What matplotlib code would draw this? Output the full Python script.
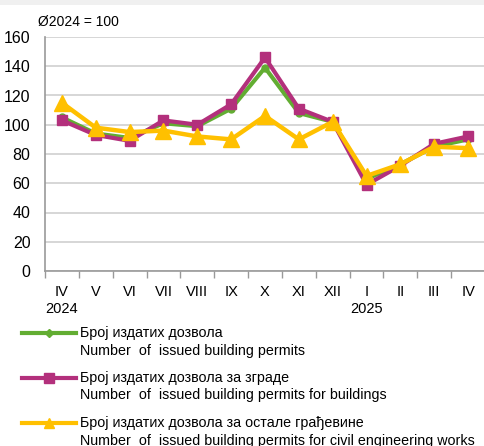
import numpy as np
import matplotlib.pyplot as plt
from matplotlib.lines import Line2D
from matplotlib.patches import Rectangle

plt.rcParams['font.family'] = ['Liberation Sans', 'DejaVu Sans']

# months IV 2024 - IV 2025
months = ['IV\n2024', 'V', 'VI', 'VII', 'VIII', 'IX', 'X', 'XI', 'XII',
          'I\n2025', 'II', 'III', 'IV']
total = [105, 94, 91, 101, 99, 111, 139, 108, 102, 63, 73, 85, 90]
buildings = [103, 93, 89, 103, 100, 114, 146, 111, 102, 59, 72, 87, 92]
civil = [115, 98, 95, 96, 92, 90, 106, 90, 102, 65, 73, 85, 84]

labels_sr = ['Број издатих дозвола',
             'Број издатих дозвола за зграде',
             'Број издатих дозвола за остале грађевине']
labels_en = ['Number  of  issued building permits',
             'Number  of  issued building permits for buildings',
             'Number  of  issued building permits for civil engineering works']

green = '#62ad32'
magenta = '#b3307c'
yellow = '#ffc000'

fig = plt.figure(figsize=(4.85, 4.46), dpi=100)
fig.add_artist(Rectangle((0, 1 - 5 / 446), 1, 5 / 446, transform=fig.transFigure,
                         color='#f0f0f0', lw=0))
ax = fig.add_axes([45 / 485, 175 / 446, 440 / 485, 234 / 446])

x = np.arange(len(months))
ax.plot(x, total, color=green, lw=3, marker='o', ms=5, zorder=3)
ax.plot(x, buildings, color=magenta, lw=3, marker='s', ms=7.5, zorder=4)
ax.plot(x, civil, color=yellow, lw=3.2, marker='^', ms=11.5, zorder=5)

ax.set_xlim(-0.5, len(months) - 0.5)
ax.set_ylim(0, 160)
ax.set_yticks(np.arange(0, 161, 20))
ax.grid(axis='y', color='#cfcfcf', lw=1.2)
ax.set_axisbelow(True)

ax.set_xticks(x)
ax.set_xticklabels(months, fontsize=10.5, linespacing=1.3)
ax.set_xticks(np.arange(-0.5, len(months), 1), minor=True)
ax.tick_params(axis='x', which='major', length=0, pad=10)
ax.tick_params(axis='x', which='minor', length=5, color='#999999', width=1)
ax.tick_params(axis='y', length=0, pad=10.5, labelsize=11.5)

for s in ['top', 'right']:
    ax.spines[s].set_visible(False)
for s in ['left', 'bottom']:
    ax.spines[s].set_color('#999999')
    ax.spines[s].set_linewidth(1.2)

fig.text(38 / 485, 1 - 22 / 446, 'Ø2024 = 100', fontsize=10, va='center')

# legend drawn by hand so the swatch sits on the first text line
leg_y = [333, 378, 423]
styles = [(green, 'D', 4), (magenta, 's', 6.5), (yellow, '^', 7)]
for yy, (c, m, ms), sr, en in zip(leg_y, styles, labels_sr, labels_en):
    yf = 1 - yy / 446
    fig.add_artist(Line2D([22 / 485, 76 / 485], [yf, yf], transform=fig.transFigure,
                          color=c, lw=3))
    fig.add_artist(Line2D([49 / 485], [yf], transform=fig.transFigure,
                          color=c, marker=m, ms=ms, lw=0))
    fig.text(80 / 485, yf, sr, fontsize=10.3, va='center')
    fig.text(80 / 485, yf - 17.5 / 446, en, fontsize=10.3, va='center')

plt.savefig('out.png', dpi=100)
